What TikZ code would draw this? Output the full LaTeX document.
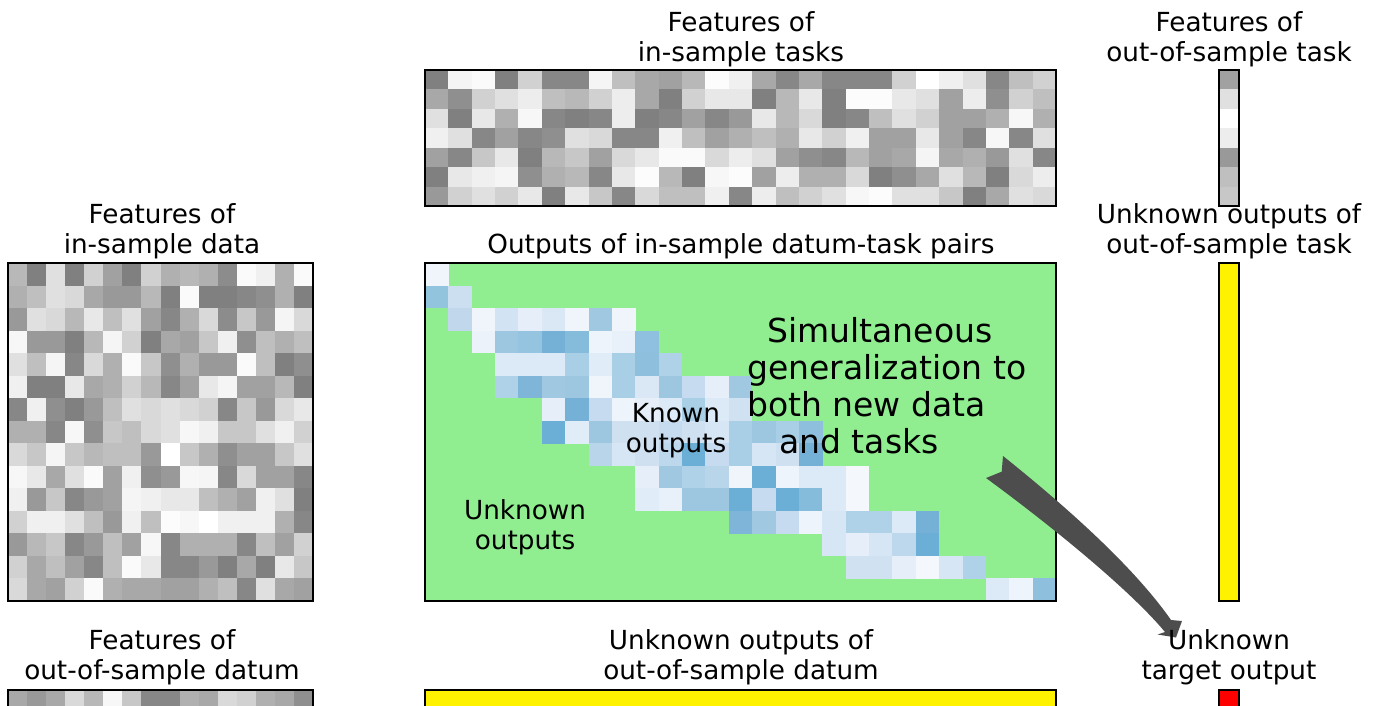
\documentclass[tikz,border=0pt]{standalone}
\usepackage{fontspec}
\setmainfont{DejaVu Sans}
\definecolor{lgreen}{HTML}{90EE90}
\definecolor{arrowgray}{HTML}{4D4D4D}
\begin{document}
\begin{tikzpicture}[x=0.75pt,y=-0.75pt,
  lbl/.style={inner sep=0pt, align=center, font=\fontsize{19.7pt}{22.5pt}\selectfont, anchor=base},
  bigtxt/.style={inner sep=0pt, align=left, font=\fontsize{24.75pt}{27.75pt}\selectfont, anchor=base west},
  frame/.style={draw=black, line width=1.5pt},
]
\useasboundingbox (0,0) rectangle (1377,706);
\clip (0,0) rectangle (1377,706);

% ---------- features of in-sample data (15 x 16) ----------
\foreach \rowv [count=\ri from 0] in {
 {28,50,12,50,18,37,50,18,31,28,31,45,2,6,31,2},
 {31,25,12,15,34,40,40,28,50,2,50,50,47,44,31,50},
 {40,12,15,28,9,25,12,37,47,31,15,45,22,40,4,15},
 {3,40,40,50,28,4,18,50,34,37,22,6,44,25,31,25},
 {12,25,4,47,15,31,2,22,44,31,40,40,2,25,50,44},
 {6,50,50,9,34,31,18,28,47,37,9,4,37,37,28,50},
 {47,6,44,50,40,25,12,15,12,15,18,47,22,40,15,9},
 {31,31,47,3,44,22,25,15,12,3,6,22,22,12,6,18},
 {15,22,4,22,28,25,25,40,0,22,31,44,37,37,22,12},
 {3,9,34,12,2,37,6,44,40,3,4,47,15,37,37,47},
 {6,40,22,47,40,37,4,6,9,9,25,31,37,6,12,50},
 {18,6,6,12,25,40,6,25,1,3,0,6,6,6,31,47},
 {40,28,22,47,40,25,37,3,47,31,31,31,47,25,37,18},
 {18,34,25,37,47,25,2,9,47,47,40,50,34,50,9,22},
 {15,34,37,18,2,31,34,34,37,37,31,25,47,12,34,37}}{
  \foreach \v [count=\ci from 0] in \rowv {
    \fill[black!\v] ({8+\ci*19.0625},{263+\ri*22.5333}) rectangle +(19.3,22.8);
  }
}
\draw[frame] (8,263) rectangle (313,601);

% ---------- features of in-sample tasks (7 x 27) ----------
\foreach \rowv [count=\ri from 0] in {
 {50,4,2,50,18,47,47,4,25,34,37,28,1,6,34,47,34,47,47,47,18,0,6,12,47,25,18},
 {34,44,18,12,7,25,28,18,7,34,50,18,9,9,50,28,9,50,1,1,9,12,37,7,44,18,25},
 {12,50,9,31,3,47,50,47,7,50,47,37,47,40,9,28,15,50,47,25,12,18,37,37,31,3,31},
 {6,12,47,37,47,44,12,15,47,47,6,25,37,31,25,31,9,18,6,37,37,9,37,47,3,47,12},
 {37,47,22,9,50,28,22,37,15,9,2,2,15,7,12,37,44,47,28,37,34,4,34,31,40,12,47},
 {50,9,6,4,44,31,28,47,9,1,28,50,3,1,37,7,31,31,15,50,44,34,12,28,50,15,7},
 {40,18,12,18,9,50,9,22,47,15,25,25,6,47,7,25,18,12,3,1,12,12,22,50,34,12,15}}{
  \foreach \v [count=\ci from 0] in \rowv {
    \fill[black!\v] ({425+\ci*23.3704},{70+\ri*19.4286}) rectangle +(23.6,19.7);
  }
}
\draw[frame] (425,70) rectangle (1056,206);

% ---------- features of out-of-sample task (7 x 1) ----------
\foreach \v [count=\ri from 0] in {37,12,0,7,40,25,22}{
  \fill[black!\v] (1219,{70+\ri*19.4286}) rectangle +(20,19.7);
}
\draw[frame] (1219,70) rectangle (1239,206);

% ---------- outputs of in-sample pairs (15 x 27) ----------
\fill[lgreen] (425,263) rectangle (1056,601);
\foreach \ri/\ci/\h in {
 1/1/F0F5FC,
 2/1/93C4DE, 2/2/CCDFF1,
 3/2/C0D7EC, 3/3/F0F5FC, 3/4/D2E3F3, 3/5/E6EFF9, 3/6/DAE8F5, 3/7/F0F5FC, 3/8/A0C8E0, 3/9/F0F5FC,
 4/3/EBF2FA, 4/4/9DC7E0, 4/5/94C4DF, 4/6/75B0D6, 4/7/85BBDB, 4/8/EDF4FB, 4/9/E8F0F9, 4/10/90C0DF,
 5/4/DCE9F6, 5/5/DCE9F6, 5/6/DCE9F6, 5/7/A8CFE5, 5/8/E0ECF7, 5/9/A8CFE5, 5/10/8EC0DE, 5/11/B0D2E8,
 6/4/B0D2E8, 6/5/7FB5D9, 6/6/A0C8E0, 6/7/9DC7E0, 6/8/F0F5FC, 6/9/A8CFE5, 6/10/DAE8F5, 6/11/9DC7E0, 6/12/C6DBEF, 6/13/E6EFF9, 6/14/A0C8E0,
 7/6/E6EFF9, 7/7/75B0D6, 7/8/C6DBEF, 7/9/EEF4FB, 7/10/E6EFF9, 7/11/DCE9F6, 7/12/A8CFE5, 7/13/DCE9F6, 7/14/D0E1F2,
 8/6/6BAED6, 8/7/E0ECF7, 8/8/9DC7E0, 8/9/CFE0F0, 8/10/CFE0F0, 8/11/C6DBEF, 8/12/CFE0F0, 8/13/D6E6F4, 8/14/A8CFE5, 8/15/9DC7E0, 8/16/A8CFE5, 8/17/8EC0DE,
 9/8/B8D5EA, 9/9/D6E6F4, 9/10/CFE0F0, 9/11/BDD7EC, 9/12/6BAED6, 9/13/C6DBEF, 9/14/A8CFE5, 9/15/D6E6F4, 9/16/CFE0F0, 9/17/75B0D6,
 10/10/E6EFF9, 10/11/A0C8E0, 10/12/B0D2E8, 10/13/B8D5EA, 10/14/F0F5FC, 10/15/6BAED6, 10/16/EEF4FB, 10/17/DCE9F6, 10/18/DCE9F6, 10/19/F4F8FD,
 11/10/E0ECF7, 11/11/E8F0F9, 11/12/9DC7E0, 11/13/9DC7E0, 11/14/6BAED6, 11/15/C6DBEF, 11/16/6BAED6, 11/17/85BBDB, 11/18/DCE9F6, 11/19/F4F8FD,
 12/14/7FB5D9, 12/15/A0C8E0, 12/16/C6DBEF, 12/17/EEF4FB, 12/18/D6E6F4, 12/19/B0D2E8, 12/20/B0D2E8, 12/21/DCE9F6, 12/22/75B0D6,
 13/18/D6E6F4, 13/19/E6EFF9, 13/20/D6E6F4, 13/21/BDD7EC, 13/22/6BAED6,
 14/19/D0E1F2, 14/20/D0E1F2, 14/21/E6EFF9, 14/22/F4F8FD, 14/23/D6E6F4, 14/24/B0D2E8,
 15/25/DCE9F6, 15/26/EEF4FB, 15/27/8EC0DE}{
  \edef\tmpdef{\noexpand\definecolor{tmpb}{HTML}{\h}}\tmpdef
  \fill[tmpb] ({425+(\ci-1)*23.3704},{263+(\ri-1)*22.5333}) rectangle +(23.6,22.8);
}
\draw[frame] (425,263) rectangle (1056,601);

% ---------- unknown outputs of out-of-sample task ----------
\fill[yellow] (1219,263) rectangle (1239,601);
\draw[frame] (1219,263) rectangle (1239,601);

% ---------- bottom row ----------
\foreach \v [count=\ci from 0] in {34,40,34,15,28,3,22,47,47,31,34,15,18,31,34,44}{
  \fill[black!\v] ({8+\ci*19.0625},690) rectangle +(19.3,22.8);
}
\draw[frame] (8,690) rectangle (313,712.5);
\fill[yellow] (425,690) rectangle (1056,712.5);
\draw[frame] (425,690) rectangle (1056,712.5);
\fill[red] (1219,690) rectangle (1239,712.5);
\draw[frame] (1219,690) rectangle (1239,712.5);

% ---------- curved arrow ----------
\coordinate (atail) at (1003,456);
\coordinate (ahead) at (1176,637.5);
\fill[arrowgray] (atail) .. controls (1075,513.6) and (1136.6,570.8) .. (1171,620)
  -- (1182,621) -- (ahead) -- (1157.5,634.5) -- (1165,632)
  .. controls (1129.8,589.7) and (1050.6,525.3) .. (986,478)
  -- (1001.7,471.7) -- cycle;

% ---------- labels (base = baseline of last line) ----------
\node[lbl] (ftasks) at (741,61.5) {Features of\\in-sample tasks};
\node[lbl] (ftask) at (1229,61.5) {Features of\\out-of-sample task};
\node[lbl] (fdata) at (162,253) {Features of\\in-sample data};
\node[lbl] (outs) at (741,253) {Outputs of in-sample datum-task pairs};
\node[lbl] (utask) at (1229,253) {Unknown outputs of\\out-of-sample task};
\node[lbl] (known) at (676,452.5) {Known\\outputs};
\node[lbl] (unknown) at (525,549.5) {Unknown\\outputs};
\node[bigtxt] (simul) at (747,453) {\hspace*{15pt}Simultaneous\\generalization to\\both new data\\\hspace*{24pt}and tasks};
\node[lbl] (fdatum) at (162,679.5) {Features of\\out-of-sample datum};
\node[lbl] (udatum) at (741,679.5) {Unknown outputs of\\out-of-sample datum};
\node[lbl] (target) at (1229,679.5) {Unknown\\target output};
\end{tikzpicture}
\end{document}
